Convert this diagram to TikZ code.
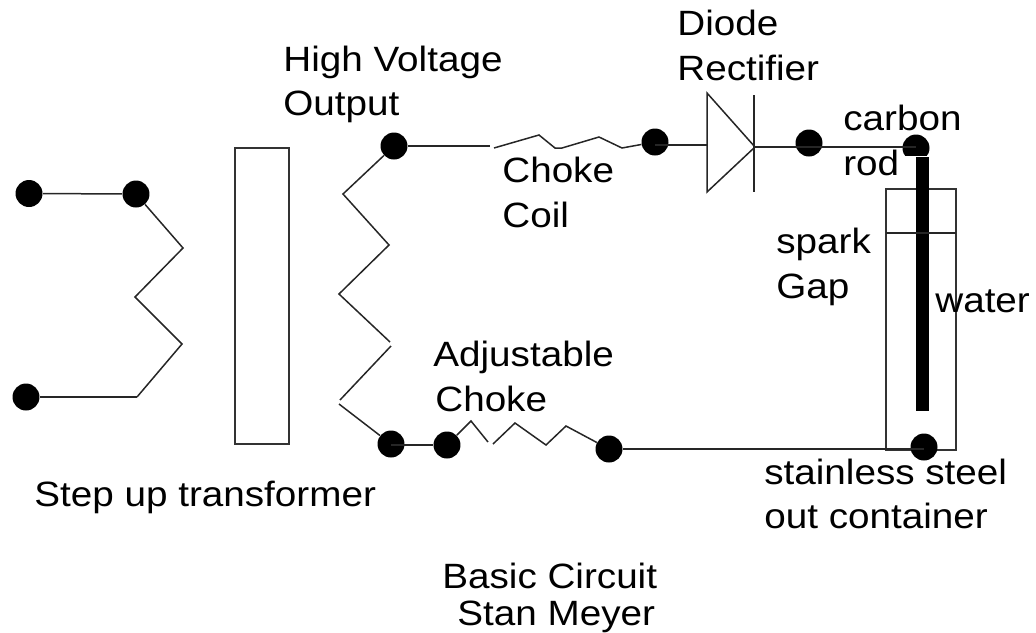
\documentclass[tikz,border=0pt]{standalone}
\usepackage{fontspec}
\setmainfont{Liberation Sans}[FakeStretch=1.1]
\begin{document}
\begin{tikzpicture}[
        x=0.02cm, y=-0.02cm,
        point/.style = {circle, fill=black, node contents={}, inner sep=0, minimum size=0.54cm},
        txt/.style = {anchor=base west, inner sep=0, font=\fontsize{20}{24}\selectfont},
        box/.style = {rectangle, draw=black!80, line width=0.04cm, inner sep=0},
        wire/.style = {draw=black!85, line width=0.03cm}
        ]

        % transformer
        \node (core) at (262,296) [box, minimum width=1.08cm, minimum height=5.92cm] {};
        \node (A1) at (29,193.5)   [point];
        \node (A2) at (136,194)  [point];
        \node (A3) at (26,397)   [point];
        \coordinate (A4) at (137,397);
        \node (S1) at (394,146)  [point];
        \node (S2) at (391,444)  [point];
        \coordinate (Sa) at (390,342);
        \coordinate (Sb) at (391,346);
        \coordinate (Sc) at (340,400);
        \coordinate (Sd) at (339,404);

        \draw[wire] (A1) -- (A2);
        \draw[wire] (A3) -- (A4);
        \draw[wire] (A2) -- (183,248) -- (135,297) -- (182,344) -- (A4);
        \draw[wire] (S1) -- (343,194) -- (389,245) -- (339,294) -- (Sa);
        \draw[wire] (Sb) -- (Sc);
        \draw[wire] (Sd) -- (S2);

        % upper branch
        \node (C1) at (655,142)  [point];
        \node (D1) at (809,143)  [point];
        \node (R1) at (916,148)  [point];
        \coordinate (Ca) at (490,146);
        \coordinate (Cb) at (494,148);
        \coordinate (T1) at (707,93);
        \coordinate (T2) at (707,192);
        \coordinate (T3) at (755,147);
        \coordinate (T4) at (707,145);
        \coordinate (B1) at (754,95);
        \coordinate (B2) at (754,192);

        \draw[wire] (S1) -- (Ca);
        \draw[wire] (Cb) -- (539,135) -- (555,148) -- (562,148) -- (599,137) -- (622,148) -- (C1);
        \draw[wire] (C1 |- T4) -- (T4);
        \draw[wire] (T1) -- (T2) -- (T3) -- cycle;
        \draw[wire] (B1) -- (B2);
        \draw[wire] (T3) -- (D1 |- T3);
        \draw[wire] (D1 |- T3) -- (R1 |- T3);

        % lower branch
        \node (L1) at (447,445)  [point];
        \node (L2) at (609,449)  [point];
        \coordinate (La) at (488,442);
        \coordinate (Lb) at (493,444);

        \draw[wire] (S2 |- L1) -- (L1);
        \draw[wire] (L1) -- (471,421) -- (La);
        \draw[wire] (Lb) -- (515,423) -- (546,445) -- (566,426) -- (L2);

        % spark gap
        \node (tank) at (921,319.5) [box, line width=0.03cm, minimum width=1.4cm, minimum height=5.22cm] {};
        \coordinate (W1) at (886,233);
        \coordinate (W2) at (956,233);
        \node (R2) at (924,447)  [point];
        \node (rodcut) at (916,160) [rectangle, fill=white, inner sep=0, minimum width=0.6cm, minimum height=0.16cm] {};
        \node (rod) at (922.5,284) [rectangle, fill=black, inner sep=0, minimum width=0.26cm, minimum height=5.08cm] {};

        \draw[wire] (W1) -- (W2);
        \draw[wire] (L2) -- (R2 |- L2);

        % labels
        \node (t1) at (283,71)  [txt] {High Voltage};
        \node (t2) at (283,115) [txt] {Output};
        \node (t3) at (677,35)  [txt] {Diode};
        \node (t4) at (677,80)  [txt] {Rectifier};
        \node (t5) at (502,182) [txt] {Choke};
        \node (t6) at (502,227) [txt] {Coil};
        \node (t7) at (843,130) [txt] {carbon};
        \node (t8) at (843,175) [txt] {rod};
        \node (t9) at (776,253) [txt] {spark};
        \node (t10) at (776,298) [txt] {Gap};
        \node (t11) at (935,312) [txt] {water};
        \node (t12) at (433,366) [txt] {Adjustable};
        \node (t13) at (435,411) [txt] {Choke};
        \node (t14) at (34,506)  [txt] {Step up transformer};
        \node (t15) at (764,484) [txt] {stainless steel};
        \node (t16) at (764,528) [txt] {out container};
        \node (t17) at (442,588) [txt] {Basic Circuit};
        \node (t18) at (457,625) [txt] {Stan Meyer};

        \useasboundingbox (0,0) rectangle (1036,633);
    \end{tikzpicture}
\end{document}
